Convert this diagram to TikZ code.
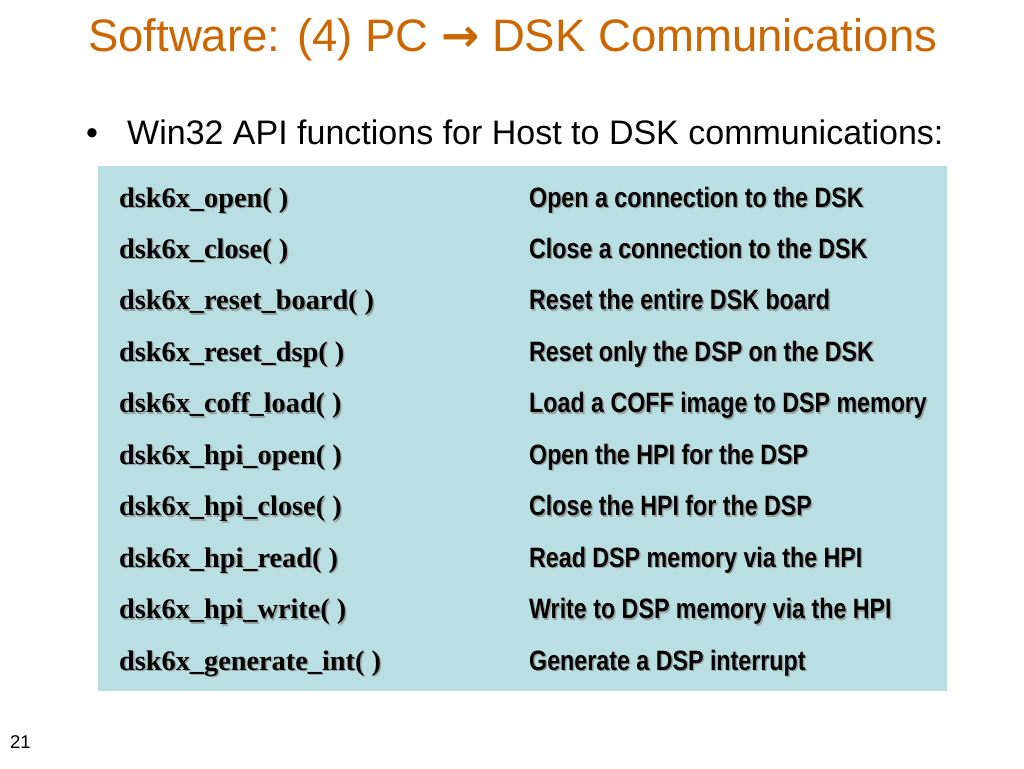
\documentclass[tikz,border=0pt]{standalone}
\usepackage{fontspec}
\usepackage{tikz}
\usetikzlibrary{positioning}
\setmainfont{Liberation Serif}
\newfontfamily\arialfont{Liberation Sans}
\newfontfamily\narrowfont[FakeStretch=0.83]{Liberation Sans}
\newfontfamily\arrowfont{DejaVu Sans}
\definecolor{titleorange}{RGB}{204,102,0}
\definecolor{tablebg}{RGB}{185,223,227}
\definecolor{shadowgray}{RGB}{150,162,164}
\newcommand{\shad}[1]{\makebox[0pt][l]{\hspace{1.5pt}\raisebox{-1.5pt}{\color{shadowgray}#1}}#1}

\begin{document}
\begin{tikzpicture}[x=1pt,y=-1pt]
			\tikzstyle{Title}	= [anchor=base west, inner sep=0pt, text=titleorange, font=\arialfont\fontsize{45.5}{54}\selectfont]
			\tikzstyle{Bullet}	= [anchor=base west, inner sep=0pt, font=\arialfont\fontsize{34}{40}\selectfont]
			\tikzstyle{Func}	= [anchor=base west, inner sep=0pt, font=\bfseries\fontsize{28.3}{32}\selectfont]
			\tikzstyle{Desc}	= [anchor=base west, inner sep=0pt, font=\narrowfont\bfseries\fontsize{28}{32}\selectfont]
			\tikzstyle{PageNo}	= [anchor=base west, inner sep=0pt, font=\arialfont\fontsize{18.5}{21}\selectfont]
			
			\useasboundingbox [fill=white] (0,0) rectangle (1024,768);
			
			\node (title) at (88,52) [Title] {Software: (4) PC {\arrowfont\bfseries →} DSK Communications};
			\node (dot) at (86,144) [Bullet] {•};
			\node (intro) at (127,144) [Bullet] {Win32 API functions for Host to DSK communications:};
			
			\fill [tablebg] (98,166) rectangle (947,691);
			
			\node (f0) at (119,207) [Func] {\shad{dsk6x\_open( )}};
			\node (f1) at (119,258.4) [Func] {\shad{dsk6x\_close( )}};
			\node (f2) at (119,309.9) [Func] {\shad{dsk6x\_reset\_board( )}};
			\node (f3) at (119,361.3) [Func] {\shad{dsk6x\_reset\_dsp( )}};
			\node (f4) at (119,412.8) [Func] {\shad{dsk6x\_coff\_load( )}};
			\node (f5) at (119,464.2) [Func] {\shad{dsk6x\_hpi\_open( )}};
			\node (f6) at (119,515.7) [Func] {\shad{dsk6x\_hpi\_close( )}};
			\node (f7) at (119,567.1) [Func] {\shad{dsk6x\_hpi\_read( )}};
			\node (f8) at (119,618.6) [Func] {\shad{dsk6x\_hpi\_write( )}};
			\node (f9) at (119,670) [Func] {\shad{dsk6x\_generate\_int( )}};
			
			\node (d0) at (529,207) [Desc] {\shad{Open a connection to the DSK}};
			\node (d1) at (529,258.4) [Desc] {\shad{Close a connection to the DSK}};
			\node (d2) at (529,309.9) [Desc] {\shad{Reset the entire DSK board}};
			\node (d3) at (529,361.3) [Desc] {\shad{Reset only the DSP on the DSK}};
			\node (d4) at (529,412.8) [Desc] {\shad{Load a COFF image to DSP memory}};
			\node (d5) at (529,464.2) [Desc] {\shad{Open the HPI for the DSP}};
			\node (d6) at (529,515.7) [Desc] {\shad{Close the HPI for the DSP}};
			\node (d7) at (529,567.1) [Desc] {\shad{Read DSP memory via the HPI}};
			\node (d8) at (529,618.6) [Desc] {\shad{Write to DSP memory via the HPI}};
			\node (d9) at (529,670) [Desc] {\shad{Generate a DSP interrupt}};
			
			\node (page) at (10,748) [PageNo] {21};
			
		\end{tikzpicture}
\end{document}
